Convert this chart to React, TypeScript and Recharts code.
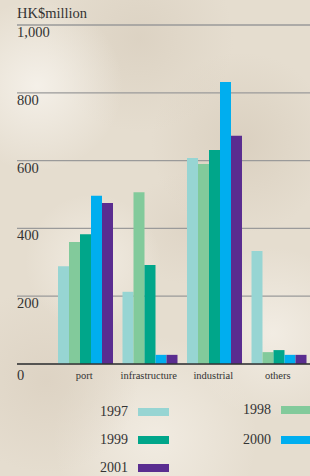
import { BarChart, Bar, XAxis, YAxis, CartesianGrid, Legend, ReferenceLine } from 'recharts'

const categories = ['port', 'infrastructure', 'industrial', 'others']
const years = ['1997', '1998', '1999', '2000', '2001']
const v1997 = [288, 213, 608, 333]
const v1998 = [360, 507, 590, 35]
const v1999 = [383, 292, 631, 41]
const v2000 = [496, 27, 832, 27]
const v2001 = [475, 27, 673, 27]
const yTicks = [0, 200, 400, 600, 800, 1000]

const colors = ['#97d5d3', '#82ca9b', '#00a68a', '#00aeef', '#5a2d90']
const series = [v1997, v1998, v1999, v2000, v2001]

const data = categories.map((name, i) => {
	const row: any = { name }
	years.forEach((y, k) => {
		row[y] = series[k][i]
	})
	return row
})

const FONT = '"Liberation Serif", "DejaVu Serif", serif'
const TEXT = '#333'
const PLOT_LEFT = 17
const GRID = '#9a9a9a'

const renderYTick = (props: any) => {
	const { y, payload } = props
	const v = payload.value as number
	return (
		<text x={PLOT_LEFT} y={y + (v === 0 ? 16 : 12)} fontSize={14.5} fontFamily={FONT} fill={TEXT}>
			{v.toLocaleString('en-US')}
		</text>
	)
}

function LegendBox({ payload }: any) {
	const items = payload || []
	return (
		<div style={{ position: 'relative', width: 310, height: 80, fontFamily: FONT, color: TEXT, fontSize: 14 }}>
			{items.map((it: any, i: number) => {
				const col = i % 2
				const row = Math.floor(i / 2)
				return (
					<div
						key={it.value}
						style={{
							position: 'absolute',
							left: col === 0 ? 80 : 223,
							top: 16 + row * 28 - 9 - (i === 1 ? 2 : 0),
							height: 18,
							display: 'flex',
							alignItems: 'center',
						}}
					>
						<span style={{ width: 48, textAlign: 'right', marginRight: 10 }}>{it.value}</span>
						<span style={{ width: 31, height: 8, background: it.color, display: 'inline-block' }} />
					</div>
				)
			})}
		</div>
	)
}

export default function App() {
	return (
		<div
			style={{
				position: 'absolute',
				left: 0,
				top: 0,
				width: 310,
				height: 476,
				overflow: 'hidden',
				background:
					'radial-gradient(circle at 12% 18%, rgba(246,242,235,0.9), transparent 18%),' +
					'radial-gradient(circle at 45% 8%, rgba(218,208,192,0.8), transparent 20%),' +
					'radial-gradient(circle at 78% 30%, rgba(214,203,186,0.7), transparent 22%),' +
					'radial-gradient(circle at 30% 55%, rgba(244,239,230,0.8), transparent 20%),' +
					'radial-gradient(circle at 60% 48%, rgba(220,210,195,0.7), transparent 18%),' +
					'radial-gradient(circle at 88% 70%, rgba(245,240,232,0.8), transparent 20%),' +
					'radial-gradient(circle at 15% 80%, rgba(218,207,191,0.7), transparent 20%),' +
					'radial-gradient(circle at 50% 92%, rgba(244,239,230,0.8), transparent 22%),' +
					'#e5ddcf',
			}}
		>
			<div
				style={{
					position: 'absolute',
					left: PLOT_LEFT,
					top: 5,
					fontFamily: FONT,
					fontSize: 14.5,
					color: TEXT,
				}}
			>
				HK$million
			</div>
			<BarChart
				width={310}
				height={476}
				data={data}
				margin={{ top: 25, right: 0, bottom: 0, left: PLOT_LEFT - 1 }}
				barCategoryGap={6}
				barGap={0}
			>
				<CartesianGrid vertical={false} stroke={GRID} strokeWidth={1.2} />
				<ReferenceLine y={1000} stroke={GRID} strokeWidth={1.2} ifOverflow="visible" />
				<XAxis
					dataKey="name"
					height={32}
					padding={{ left: 35, right: 0 }}
					tickLine={false}
					axisLine={{ stroke: '#333', strokeWidth: 1.5 }}
					tick={{ fontSize: 10.5, fontFamily: FONT, fill: TEXT }}
				/>
				<YAxis
					width={1}
					domain={[0, 1000]}
					ticks={yTicks}
					interval={0}
					axisLine={false}
					tickLine={false}
					tick={renderYTick}
				/>
				<Legend
					verticalAlign="bottom"
					wrapperStyle={{ left: 0, width: 310, height: 80 }}
					content={<LegendBox />}
				/>
				{years.map((y, k) => (
					<Bar key={y} dataKey={y} fill={colors[k]} isAnimationActive={false} />
				))}
			</BarChart>
		</div>
	)
}
